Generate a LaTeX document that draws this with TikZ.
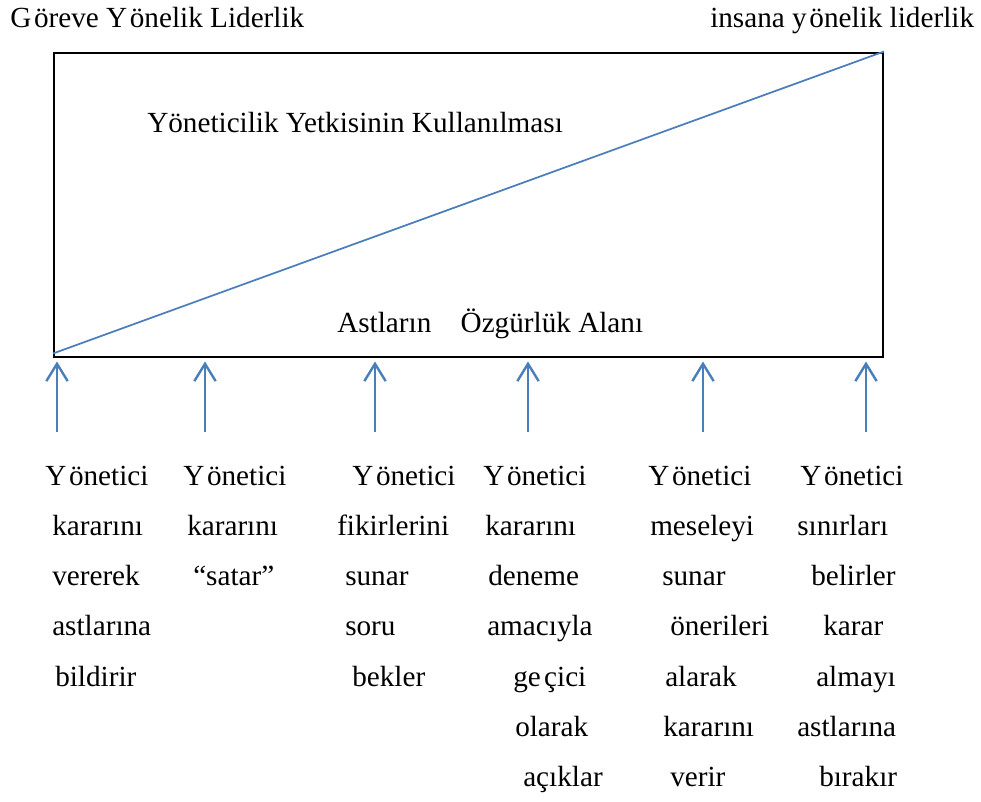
\documentclass[tikz,border=0pt]{standalone}
\usepackage{fontspec}
\setmainfont{Liberation Serif}
\usetikzlibrary{arrows.meta}
\definecolor{lineblue}{RGB}{74,126,187}
\tikzset{
  lbl/.style={anchor=base west, inner sep=0pt, font=\fontsize{21.9}{26}\selectfont},
  uparrow/.style={lineblue, line width=1.8pt, -{Straight Barb[length=13pt, width=16pt]}, shorten >=3pt}
}
\begin{document}
\begin{tikzpicture}[x=0.75pt, y=-0.75pt]
  \useasboundingbox (0,0) rectangle (981,801);
  % headings
  \node[lbl] (task) at (10,27)  {G\kern2ptöreve Y\kern2ptönelik Liderlik};
  \node[lbl] (human) at (710,27) {insana y\kern2ptönelik liderlik};
  % box with the diagonal
  \node[draw, line width=1.5pt, minimum width=621.75pt, minimum height=228pt, inner sep=0pt] (box) at (468.5,204.5) {};
  \draw[lineblue, line width=1.3pt] ([yshift=3pt]box.south west) -- (box.north east);
  \node[lbl] (authority) at (147,132) {Yöneticilik Yetkisinin Kullanılması};
  \node[lbl] (freedom) at (337,332) {Astların\hspace{22pt}Özgürlük Alanı};
  % arrows
  \foreach \x [count=\i] in {57,205,375,528,703,866} {
    \coordinate (a\i) at (\x,432);
    \draw[uparrow] (a\i) -- (a\i |- box.south);
  }
  % columns
  \foreach \x/\t [count=\i] in {45/Y\kern2ptönetici, 52/kararını, 52/vererek, 52/astlarına, 55/bildirir}
    \node[lbl] (c1-\i) at (\x,{485+50.3*(\i-1)}) {\t};
  \foreach \x/\t [count=\i] in {183/Y\kern2ptönetici, 187/kararını, 193/“satar”}
    \node[lbl] (c2-\i) at (\x,{485+50.3*(\i-1)}) {\t};
  \foreach \x/\t [count=\i] in {352/Y\kern2ptönetici, 337/fikirlerini, 345/sunar, 345/soru, 352/bekler}
    \node[lbl] (c3-\i) at (\x,{485+50.3*(\i-1)}) {\t};
  \foreach \x/\t [count=\i] in {483/Y\kern2ptönetici, 485/kararını, 488/deneme, 487/amacıyla, 513/ge\kern2.5ptçici, 515/olarak, 523/açıklar}
    \node[lbl] (c4-\i) at (\x,{485+50.3*(\i-1)}) {\t};
  \foreach \x/\t [count=\i] in {648/Y\kern2ptönetici, 650/meseleyi, 662/sunar, 670/önerileri, 665/alarak, 663/kararını, 670/verir}
    \node[lbl] (c5-\i) at (\x,{485+50.3*(\i-1)}) {\t};
  \foreach \x/\t [count=\i] in {800/Y\kern2ptönetici, 797/sınırları, 811/belirler, 823/karar, 816/almayı, 797/astlarına, 819/bırakır}
    \node[lbl] (c6-\i) at (\x,{485+50.3*(\i-1)}) {\t};
\end{tikzpicture}
\end{document}
